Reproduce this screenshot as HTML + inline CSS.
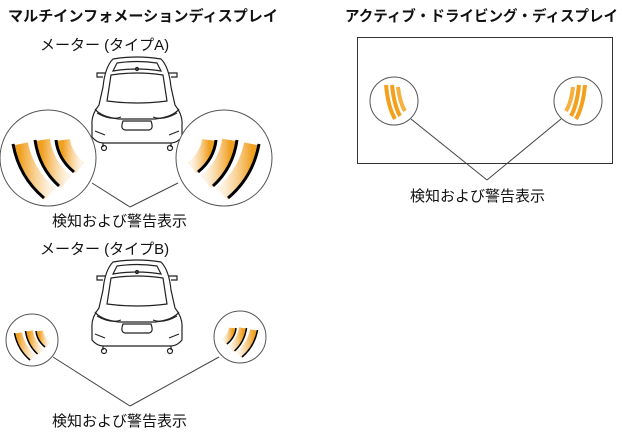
<!DOCTYPE html>
<html><head><meta charset="utf-8"><style>
html,body{margin:0;padding:0;background:#fff}
svg{display:block}
text{font-family:"Liberation Sans","Noto Sans CJK JP",sans-serif;fill:#111}
</style></head><body>
<svg width="622" height="434" viewBox="0 0 622 434" xmlns="http://www.w3.org/2000/svg">
<defs>
<linearGradient id="og" x1="0" y1="0" x2="1" y2="0">
<stop offset="0" stop-color="#f0a020"/><stop offset="1" stop-color="#f7c070" stop-opacity="0.2"/>
</linearGradient>
<g id="waves">
<path d="M-30,-14 Q-24,16 0,36" stroke="url(#og)" stroke-width="16" fill="none"/>
<path d="M-37,-14 Q-31,19 -6,40" stroke="#000" stroke-width="3" fill="none"/>
<path d="M-8,-18 Q-4,8 16,24" stroke="url(#og)" stroke-width="16" fill="none"/>
<path d="M-15,-18 Q-11,10 9,28" stroke="#000" stroke-width="3" fill="none"/>
<path d="M13,-18 Q15,-2 30,10" stroke="url(#og)" stroke-width="14" fill="none"/>
<path d="M6,-18 Q8,1 24,14" stroke="#000" stroke-width="3" fill="none"/>
</g>
<g id="wavesO">
<path d="M-8,-16 Q-6,6 1,18" stroke="#f3a11d" stroke-width="4" fill="none"/>
<path d="M-2,-16 Q0,4 6,15" stroke="#f3a11d" stroke-width="4" fill="none"/>
<path d="M4,-14 Q6,2 11,10" stroke="#f5b040" stroke-width="4" fill="none"/>
</g>
<g id="car" fill="none" stroke="#222" stroke-width="1.2">
<path d="M22,2 Q46,-2 70,2 Q78,10 80,30 L84,48 Q92,58 91,68 L91,80 Q86,86 80,86 L12,86 Q6,86 1,80 L1,68 Q0,58 8,48 L12,30 Q14,10 22,2 Z" fill="#fff"/>
<path d="M26,6 Q46,3 66,6 L70,14 Q46,10 22,14 Z"/>
<path d="M20,18 Q46,14 72,18 L76,44 Q46,48 16,44 Z"/>
<path d="M4,52 Q10,60 28,62 L64,62 Q82,60 88,52"/>
<path d="M6,56 Q20,64 30,60 M86,56 Q72,64 62,60"/>
<path d="M32,64 L60,64 Q63,72 58,73 L34,73 Q29,72 32,64 Z"/>
<path d="M4,74 L14,78 M88,74 L78,78"/>
<path d="M12,86 l0,4 M80,86 l0,4"/>
<circle cx="13" cy="91" r="2.5"/><circle cx="79" cy="91" r="2.5"/>
<path d="M14,16 L6,16 L6,20 L12,20 M78,16 L86,16 L86,20 L80,20"/>
<circle cx="46" cy="12" r="1.5"/>
</g>
</defs>

<text x="8" y="21" font-size="15" font-weight="bold" textLength="270" lengthAdjust="spacingAndGlyphs">マルチインフォメーションディスプレイ</text>
<text x="345" y="21" font-size="15" font-weight="bold" textLength="273" lengthAdjust="spacingAndGlyphs">アクティブ・ドライビング・ディスプレイ</text>

<text x="40" y="50" font-size="15">メーター (タイプA)</text>
<use href="#car" x="91" y="57"/>
<line x1="92" y1="183" x2="130" y2="207" stroke="#444" stroke-width="1"/>
<line x1="178" y1="183" x2="130" y2="207" stroke="#444" stroke-width="1"/>
<circle cx="48" cy="158" r="48" fill="#fff" stroke="#555" stroke-width="1"/>
<circle cx="224" cy="158" r="48" fill="#fff" stroke="#555" stroke-width="1"/>
<use href="#waves" transform="translate(50,158)"/>
<use href="#waves" transform="translate(222,158) scale(-1,1)"/>
<text x="52" y="226" font-size="15">検知および警告表示</text>

<text x="40" y="254" font-size="15">メーター (タイプB)</text>
<use href="#car" x="91" y="260"/>
<line x1="53" y1="357" x2="130" y2="406" stroke="#444" stroke-width="1"/>
<line x1="219" y1="357" x2="130" y2="406" stroke="#444" stroke-width="1"/>
<circle cx="32" cy="340" r="26" fill="#fff" stroke="#555" stroke-width="1"/>
<circle cx="240" cy="337" r="26" fill="#fff" stroke="#555" stroke-width="1"/>
<use href="#waves" transform="translate(33,340) scale(0.5)"/>
<use href="#waves" transform="translate(239,337) scale(-0.5,0.5)"/>
<text x="52" y="426" font-size="15">検知および警告表示</text>

<rect x="357.5" y="37.5" width="255" height="126" fill="none" stroke="#333" stroke-width="1"/>
<line x1="411" y1="119" x2="487" y2="180" stroke="#444" stroke-width="1"/>
<line x1="561" y1="119" x2="487" y2="180" stroke="#444" stroke-width="1"/>
<circle cx="394" cy="101" r="24" fill="#fff" stroke="#555" stroke-width="1"/>
<circle cx="578" cy="101" r="24" fill="#fff" stroke="#555" stroke-width="1"/>
<use href="#wavesO" transform="translate(394,101)"/>
<use href="#wavesO" transform="translate(577,101) scale(-1,1)"/>
<text x="410" y="201" font-size="15">検知および警告表示</text>
</svg>
</body></html>
